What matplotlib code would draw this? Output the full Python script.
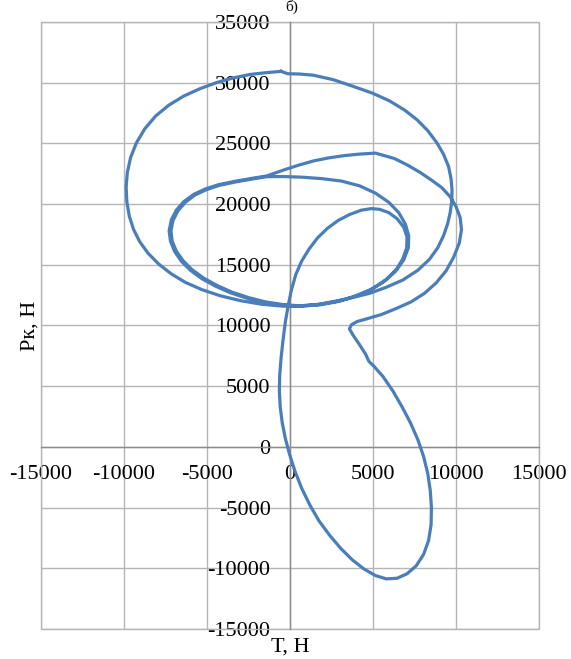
import matplotlib.pyplot as plt
from matplotlib.patches import Rectangle

# Polar diagram of crank pin load: T (tangential) vs Pk
t_values = [
    -540, -1440, -2400, -3400, -4400, -5400, -6400, -7300, -8100, -8750,
    -9250, -9600, -9800, -9870, -9830, -9680, -9420, -9050, -8550, -7900,
    -7150, -6300, -5300, -4200, -3000, -1700, -500, 500,
    1800, 3000, 4100, 5000, 5800, 6400, 6800, 7030, 7050, 6850,
    6450, 5950, 5400, 4900, 4300, 3600, 2900, 2250, 1650, 1150,
    700, 350, 80, -100, -280, -420, -540, -620, -640, -590,
    -470, -280, -30, 300, 700, 1200, 1750, 2400, 3050, 3750,
    4450, 5150, 5800, 6450, 7050, 7600, 8050, 8350, 8500, 8520,
    8450, 8300, 8050, 7700, 7250, 6750, 6200, 5600, 5050, 4750,
    4650, 4550, 4150, 3800, 3580, 3700, 4050, 4700, 5500, 6400,
    7300, 8100, 8800, 9400, 9850, 10200, 10330, 10250, 10000, 9650,
    9150, 8550, 7850, 7100, 6300, 5150, 4200, 3300, 2300, 1400,
    500, -400, -1400,
    -2300, -3300, -4300, -5100, -5800, -6400, -6850, -7150, -7280, -7200,
    -6950, -6550, -6000, -5300, -4500, -3600, -2600, -1600, -500, 500,
    1600, 2700, 3800, 4800, 5650, 6350, 6850, 7130, 7150, 6950,
    6550, 5950, 5150, 4200, 3100, 1900, 700, -400, -1400,
    -2300, -3300, -4300, -5050, -5750, -6300, -6750, -7050, -7170, -7100,
    -6850, -6450, -5900, -5200, -4400, -3500, -2500, -1500, -400, 600,
    1800, 3300, 4800, 5800, 6800, 7700, 8400, 8900, 9250, 9500,
    9650, 9750, 9760, 9700, 9550, 9250, 8850, 8300, 7650, 6900,
    6000, 4950, 3800, 2600, 1400, 560, -140, -540,
]
pk_values = [
    30935, 30825, 30680, 30400, 30020, 29520, 28900, 28150, 27250, 26200,
    25050, 23850, 22600, 21400, 20200, 19000, 17900, 16900, 15950, 15050,
    14250, 13550, 12950, 12450, 12050, 11750, 11600, 11580,
    11700, 12000, 12500, 13050, 13800, 14600, 15500, 16400, 17300, 18100,
    18800, 19300, 19570, 19630, 19500, 19150, 18650, 18000, 17200, 16300,
    15300, 14200, 12900, 11700, 10300, 8800, 7300, 5900, 4600, 3300,
    2000, 700, -600, -2000, -3400, -4800, -6100, -7300, -8350, -9300,
    -10050, -10600, -10870, -10820, -10450, -9800, -8850, -7700, -6400, -5000,
    -3600, -2200, -800, 600, 2000, 3300, 4600, 5800, 6650, 7050,
    7350, 7650, 8500, 9200, 9720, 10060, 10330, 10580, 10900, 11400,
    11950, 12650, 13500, 14500, 15600, 16800, 17900, 18900, 19800, 20600,
    21350, 21950, 22600, 23200, 23750, 24200, 24120, 24000, 23800, 23550,
    23200, 22800, 22320,
    22120, 21880, 21600, 21250, 20800, 20200, 19500, 18700, 17800, 16950,
    16100, 15300, 14550, 13850, 13250, 12700, 12250, 11900, 11680, 11600,
    11700, 11950, 12350, 12900, 13600, 14450, 15400, 16400, 17400, 18350,
    19300, 20150, 20900, 21500, 21900, 22100, 22220, 22270, 22260,
    22060, 21820, 21530, 21180, 20730, 20150, 19450, 18650, 17800, 16950,
    16130, 15350, 14600, 13900, 13300, 12750, 12300, 11950, 11720, 11620,
    11760, 12150, 12650, 13150, 13750, 14550, 15450, 16400, 17400, 18400,
    19300, 20300, 21200, 22100, 23100, 24100, 25050, 26050, 26950, 27750,
    28500, 29150, 29700, 30250, 30620, 30715, 30740, 30935,
]

x_ticks = list(range(-15000, 15001, 5000))
y_ticks = list(range(-15000, 35001, 5000))

plt.rcParams['font.family'] = ['Liberation Serif', 'DejaVu Serif']
plt.rcParams['axes.unicode_minus'] = False

fig = plt.figure(figsize=(5.71, 6.59), dpi=100)
ax = fig.add_axes([41 / 571, 30 / 659, 498 / 571, 607 / 659])

ax.plot(t_values, pk_values, color='#4A7EBB', linewidth=2.3, zorder=3)

ax.set_xlim(-15000, 15000)
ax.set_ylim(-15000, 35000)
ax.set_xticks(x_ticks)
ax.set_yticks(y_ticks)
ax.tick_params(axis='both', length=0, labelsize=16)
ax.tick_params(axis='x', pad=13)
ax.tick_params(axis='y', pad=14)

ax.grid(True, color='#B5B5B5', linewidth=1.0)
ax.set_axisbelow(True)

# оси проходят через ноль
ax.spines['left'].set_position(('data', 0))
ax.spines['bottom'].set_position(('data', 0))
for s in ['left', 'bottom']:
    ax.spines[s].set_color('#8C8C8C')
    ax.spines[s].set_linewidth(1.0)
for s in ['top', 'right']:
    ax.spines[s].set_visible(False)
ax.add_patch(Rectangle((0, 0), 1, 1, transform=ax.transAxes, fill=False,
                       edgecolor='#B5B5B5', linewidth=1.0, clip_on=False))

ax.set_xlabel('Т, Н', fontsize=16)
ax.set_ylabel('Рк, Н', fontsize=16)
ax.xaxis.set_label_coords(0.5, -0.014)
ax.yaxis.set_label_coords(-0.002, 0.5)

fig.text(292 / 571, 1.0, 'б)', fontsize=11, ha='center', va='top')

fig.savefig('out.png', dpi=100)
